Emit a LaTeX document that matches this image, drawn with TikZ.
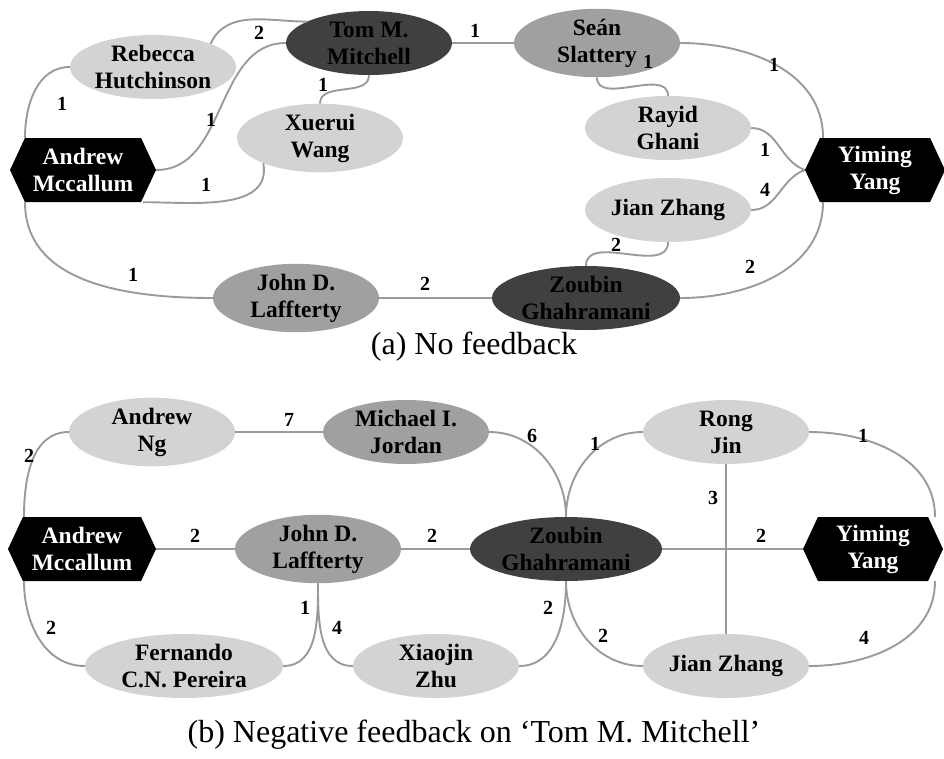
\documentclass[tikz,border=0pt]{standalone}
\usepackage{fontspec}
\setmainfont{Liberation Serif}
\usetikzlibrary{calc}
\usetikzlibrary{shapes.geometric,shapes.symbols}
\definecolor{darknode}{HTML}{404040}
\definecolor{midnode}{HTML}{A0A0A0}
\definecolor{lightnode}{HTML}{D3D3D3}
\definecolor{edgegray}{HTML}{9A9A9A}
\tikzset{
  author/.style={ellipse, inner sep=0pt, minimum width=166pt, minimum height=64pt,
    text=black, align=center, font=\fontsize{23.5}{27}\selectfont\bfseries},
  light/.style={author, fill=lightnode},
  mid/.style={author, fill=midnode},
  dark/.style={author, fill=darknode},
  query/.style={signal, signal to=west and east, signal pointer angle=130,
    fill=black, text=white, inner sep=0pt, minimum width=146pt, minimum height=64pt,
    align=center, font=\fontsize{23.5}{27}\selectfont\bfseries},
  link/.style={draw=edgegray, line width=1.9pt},
  weight/.style={inner sep=1pt, font=\fontsize{20}{20}\selectfont\bfseries},
  caption/.style={font=\fontsize{32}{36}\selectfont}
}

\begin{document}
\begin{tikzpicture}[x=1pt,y=1pt]
    \path[use as bounding box] (0,0) rectangle (944,-758);
    % (a) Authors.
    \node[dark] (tomA) at (369,-43) {Tom M.\\Mitchell};
    \node[mid] (seanA) at (597,-43) {Se\'an\\Slattery};
    \node[light] (rebeccaA) at (153,-67) {Rebecca\\Hutchinson};
    \node[light] (xueruiA) at (320,-138) {Xuerui\\Wang};
    \node[query] (mccA) at (83,-170) {Andrew\\Mccallum};
    \node[light] (rayidA) at (668,-128) {Rayid\\Ghani};
    \node[query, minimum width=140pt] (yangA) at (875,-170) {Yiming\\Yang};
    \node[light] (zhangA) at (668,-210) {Jian Zhang};
    \node[dark, minimum width=188pt] (zoubinA) at (586,-298) {Zoubin\\Ghahramani};
    \node[mid] (laffA) at (296,-298) {John D.\\Laffterty};
    % (a) Links.
    \draw[link] (rebeccaA.west) to[out=180,in=90] ($(mccA.north)+(-58,0)$);
    \draw[link] (rebeccaA.22) to[out=65,in=180] (tomA.161);
    \draw[link] (mccA.east) to[out=0,in=180] (tomA.west);
    \draw[link] (xueruiA.north) to[out=90,in=-90] (tomA.south);
    \draw[link] ($(mccA.south)+(60,0)$) to[out=0,in=-80] (xueruiA.204);
    \draw[link] ($(mccA.south)+(-58,0)$) to[out=-90,in=180] (laffA.west);
    \draw[link] (laffA.east) -- (zoubinA.west);
    \draw[link] (tomA.east) -- (seanA.west);
    \draw[link] (seanA.east) to[out=0,in=90] ($(yangA.north)+(-52,0)$);
    \draw[link] (seanA.south) to[out=-90,in=90] (rayidA.north);
    \draw[link] (rayidA.east) to[out=0,in=160] (yangA.west);
    \draw[link] (zhangA.east) to[out=0,in=200] (yangA.west);
    \draw[link] (zhangA.south) to[out=-90,in=90] (zoubinA.north);
    \draw[link] (zoubinA.east) to[out=0,in=-90] ($(yangA.south)+(-52,0)$);
    % (a) Weights.
    \node[weight] at (259,-33) {2};
    \node[weight] at (62,-104) {1};
    \node[weight] at (211,-120) {1};
    \node[weight] at (323,-85) {1};
    \node[weight] at (206,-185) {1};
    \node[weight] at (133,-275) {1};
    \node[weight] at (425,-284) {2};
    \node[weight] at (475,-31) {1};
    \node[weight] at (648,-62) {1};
    \node[weight] at (774,-65) {1};
    \node[weight] at (765,-150) {1};
    \node[weight] at (765,-190) {4};
    \node[weight] at (616,-245) {2};
    \node[weight] at (750,-267) {2};
    \node[caption] (capA) at (474,-347) {(a) No feedback};
    % (b) Authors.
    \node[light] (ngB) at (152,-432) {Andrew\\Ng};
    \node[mid] (jordanB) at (406,-432) {Michael I.\\Jordan};
    \node[light] (rongB) at (726,-432) {Rong\\Jin};
    \node[query, minimum width=148pt] (mccB) at (82,-549) {Andrew\\Mccallum};
    \node[mid] (laffB) at (318,-549) {John D.\\Laffterty};
    \node[dark, minimum width=192pt] (zoubinB) at (566,-549) {Zoubin\\Ghahramani};
    \node[query, minimum width=140pt] (yangB) at (873,-549) {Yiming\\Yang};
    \node[light, minimum width=198pt] (fernandoB) at (184,-666) {Fernando\\C.N. Pereira};
    \node[light] (xiaojinB) at (436,-666) {Xiaojin\\Zhu};
    \node[light] (zhangB) at (726,-666) {Jian Zhang};
    % (b) Links.
    \draw[link] (ngB.west) to[out=180,in=90] ($(mccB.north)+(-58,0)$);
    \draw[link] (ngB.east) -- (jordanB.west);
    \draw[link] (jordanB.east) to[out=0,in=90] (zoubinB.north);
    \draw[link] (rongB.west) to[out=180,in=90] (zoubinB.north);
    \draw[link] (rongB.east) to[out=0,in=90] ($(yangB.north)+(62,0)$);
    \draw[link] (rongB.south) -- (zhangB.north);
    \draw[link] (zoubinB.east) -- (yangB.west);
    \draw[link] (mccB.east) -- (laffB.west);
    \draw[link] (laffB.east) -- (zoubinB.west);
    \draw[link] ($(mccB.south)+(-58,0)$) to[out=-90,in=180] (fernandoB.west);
    \draw[link] (laffB.south) to[out=-90,in=0] (fernandoB.east);
    \draw[link] (laffB.south) to[out=-90,in=180] (xiaojinB.west);
    \draw[link] (zoubinB.south) to[out=-90,in=0] (xiaojinB.east);
    \draw[link] (zoubinB.south) to[out=-90,in=180] (zhangB.west);
    \draw[link] (zhangB.east) to[out=0,in=-90] ($(yangB.south)+(62,0)$);
    % (b) Weights.
    \node[weight] at (29,-456) {2};
    \node[weight] at (289,-420) {7};
    \node[weight] at (532,-436) {6};
    \node[weight] at (595,-444) {1};
    \node[weight] at (863,-436) {1};
    \node[weight] at (713,-498) {3};
    \node[weight] at (761,-536) {2};
    \node[weight] at (195,-536) {2};
    \node[weight] at (432,-536) {2};
    \node[weight] at (51,-628) {2};
    \node[weight] at (305,-608) {1};
    \node[weight] at (337,-628) {4};
    \node[weight] at (548,-608) {2};
    \node[weight] at (603,-636) {2};
    \node[weight] at (864,-638) {4};
    \node[caption] (capB) at (474,-735) {(b) Negative feedback on ‘Tom M. Mitchell’};
\end{tikzpicture}
\end{document}
